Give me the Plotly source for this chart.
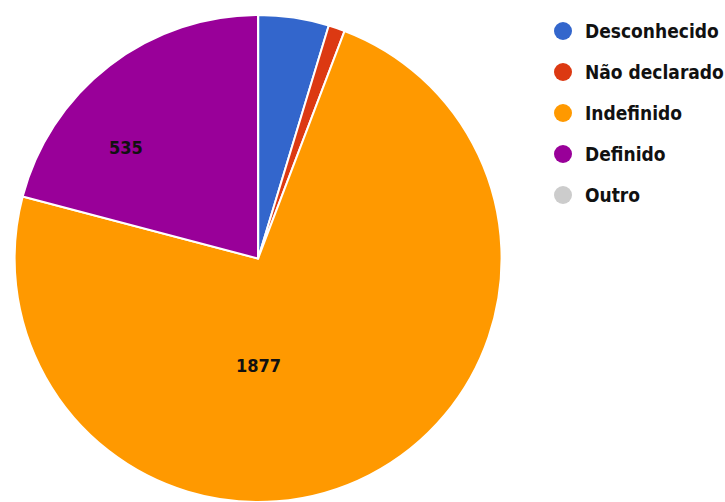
import plotly.graph_objects as go

# Slice data
labels = ["Desconhecido", "Não declarado", "Indefinido", "Definido", "Outro"]
values = [120, 28, 1877, 535, 0]
colors = ["#3366CC", "#DC3912", "#FF9900", "#990099", "#CCCCCC"]

W, H = 725, 502
FONT = "DejaVu Sans Condensed, DejaVu Sans, sans-serif"


def narrow_bold(s):
    return f'<span style="font-stretch:condensed;font-weight:bold">{s}</span>'


fig = go.Figure(
    go.Pie(
        labels=labels,
        values=values,
        sort=False,
        direction="clockwise",
        rotation=0,
        marker=dict(colors=colors, line=dict(color="white", width=2)),
        textinfo="none",
        showlegend=False,
        domain=dict(x=[0.02, 0.692], y=[0.0, 0.97]),
    )
)

# Value labels on the two large slices
total = sum(values)
label_xy = {"Indefinido": (258, 365), "Definido": (126, 148)}
for lab, val in zip(labels, values):
    if lab in label_xy and val / total > 0.1:
        px, py = label_xy[lab]
        fig.add_annotation(
            x=px / W, y=1 - py / H, xref="paper", yref="paper",
            text=narrow_bold(val), showarrow=False,
            xanchor="center", yanchor="middle",
            font=dict(family=FONT, size=18, color="#111111"),
        )

# Legend with round markers
legend_top, legend_step = 31, 41
dot_x, text_x = 563, 583
for i, (lab, col) in enumerate(zip(labels, colors)):
    yy = 1 - (legend_top + i * legend_step) / H
    fig.add_shape(
        type="circle", xref="paper", yref="paper",
        xsizemode="pixel", ysizemode="pixel",
        xanchor=dot_x / W, yanchor=yy,
        x0=-9, x1=9, y0=-9, y1=9,
        fillcolor=col, line=dict(width=0),
    )
    fig.add_annotation(
        x=text_x / W, y=yy, xref="paper", yref="paper",
        text=narrow_bold(lab), showarrow=False,
        xanchor="left", yanchor="middle",
        font=dict(family=FONT, size=19, color="#111111"),
    )

fig.update_layout(
    width=W, height=H,
    margin=dict(l=0, r=0, t=0, b=0),
    paper_bgcolor="white",
    plot_bgcolor="white",
)

fig.write_html("out.html")
